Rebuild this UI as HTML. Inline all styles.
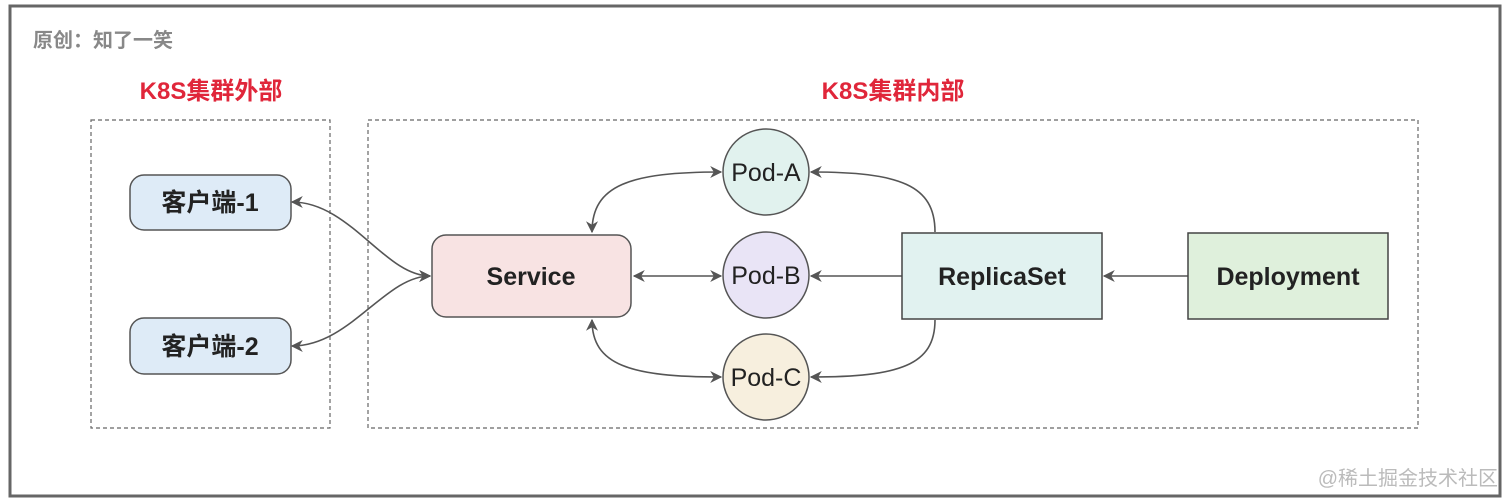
<!DOCTYPE html>
<html><head><meta charset="utf-8"><style>
html,body{margin:0;padding:0;background:#fff;}
svg{display:block;}
text{font-family:"Liberation Sans","Noto Sans CJK SC",sans-serif;}
</style></head><body>
<svg width="1512" height="503" viewBox="0 0 1512 503" xmlns="http://www.w3.org/2000/svg">
<defs>
<marker id="ar" viewBox="0 0 10 10" refX="9" refY="5" markerWidth="12" markerHeight="12" markerUnits="userSpaceOnUse" orient="auto-start-reverse">
<path d="M0,0 L10,5 L0,10 L3,5 z" fill="#555"/></marker>
</defs>
<rect x="10" y="6" width="1490" height="490" fill="#fff" stroke="#666" stroke-width="3"/>
<text x="33" y="47" font-size="20" font-weight="bold" fill="#888">原创：知了一笑</text>
<text x="211" y="99" font-size="24" font-weight="bold" fill="#e0263a" text-anchor="middle">K8S集群外部</text>
<text x="893" y="99" font-size="24" font-weight="bold" fill="#e0263a" text-anchor="middle">K8S集群内部</text>
<rect x="91" y="120" width="239" height="308" fill="none" stroke="#666" stroke-width="1.2" stroke-dasharray="4,3"/>
<rect x="368" y="120" width="1050" height="308" fill="none" stroke="#666" stroke-width="1.2" stroke-dasharray="4,3"/>
<g fill="none" stroke="#555" stroke-width="1.6">
<path d="M430,276 C385,276 350,202 292,202" marker-start="url(#ar)" marker-end="url(#ar)"/>
<path d="M430,276 C385,276 350,346 292,346" marker-start="url(#ar)" marker-end="url(#ar)"/>
<path d="M592,232 C592,185 630,172 721,172" marker-start="url(#ar)" marker-end="url(#ar)"/>
<path d="M592,320 C592,365 630,377 721,377" marker-start="url(#ar)" marker-end="url(#ar)"/>
<path d="M634,276 L721,276" marker-start="url(#ar)" marker-end="url(#ar)"/>
<path d="M935,232 C935,185 900,172 811,172" marker-end="url(#ar)"/>
<path d="M935,320 C935,365 900,377 811,377" marker-end="url(#ar)"/>
<path d="M902,276 L811,276" marker-end="url(#ar)"/>
<path d="M1188,276 L1104,276" marker-end="url(#ar)"/>
</g>
<rect x="130" y="175" width="161" height="55" rx="14" fill="#deebf7" stroke="#555" stroke-width="1.5"/>
<text x="210" y="211" font-size="25" font-weight="bold" fill="#222" text-anchor="middle">客户端-1</text>
<rect x="130" y="318" width="161" height="56" rx="14" fill="#deebf7" stroke="#555" stroke-width="1.5"/>
<text x="210" y="355" font-size="25" font-weight="bold" fill="#222" text-anchor="middle">客户端-2</text>
<rect x="432" y="235" width="199" height="82" rx="14" fill="#f8e3e3" stroke="#555" stroke-width="1.5"/>
<text x="531" y="285" font-size="25" font-weight="bold" fill="#222" text-anchor="middle">Service</text>
<circle cx="766" cy="172" r="43" fill="#e1f2ee" stroke="#555" stroke-width="1.5"/>
<text x="766" y="181" font-size="25" fill="#222" text-anchor="middle">Pod-A</text>
<circle cx="766" cy="275" r="43" fill="#e9e4f6" stroke="#555" stroke-width="1.5"/>
<text x="766" y="284" font-size="25" fill="#222" text-anchor="middle">Pod-B</text>
<circle cx="766" cy="377" r="43" fill="#f7efde" stroke="#555" stroke-width="1.5"/>
<text x="766" y="386" font-size="25" fill="#222" text-anchor="middle">Pod-C</text>
<rect x="902" y="233" width="200" height="86" fill="#e1f2f0" stroke="#444" stroke-width="1.5"/>
<text x="1002" y="285" font-size="25" font-weight="bold" fill="#222" text-anchor="middle">ReplicaSet</text>
<rect x="1188" y="233" width="200" height="86" fill="#dff0dc" stroke="#444" stroke-width="1.5"/>
<text x="1288" y="285" font-size="25" font-weight="bold" fill="#222" text-anchor="middle">Deployment</text>
<text x="1498" y="485" font-size="20" fill="#bbb" text-anchor="end">@稀土掘金技术社区</text>
</svg>
</body></html>
